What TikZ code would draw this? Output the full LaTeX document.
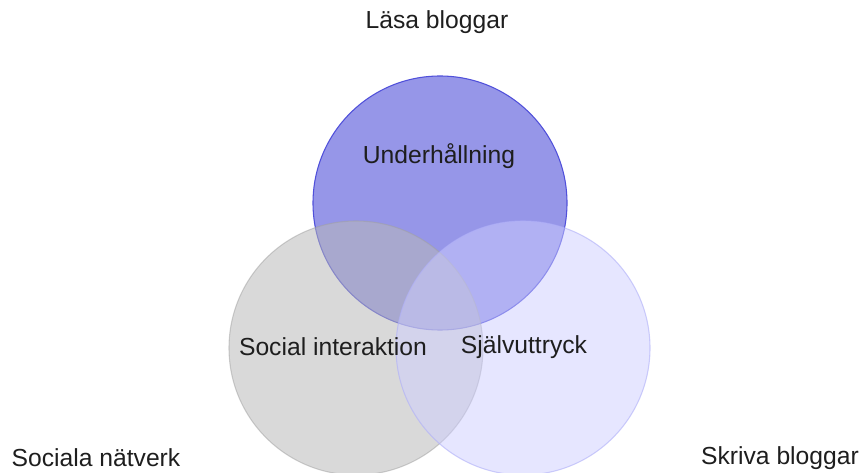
\documentclass[tikz,border=0pt]{standalone}
\usepackage{fontspec}
\setmainfont{Liberation Sans}
\usepackage{xcolor}
\usetikzlibrary{positioning}
\definecolor{topblue}{RGB}{150,150,232}
\definecolor{topedge}{RGB}{80,80,218}
\definecolor{leftgray}{RGB}{184,184,184}
\definecolor{leftedge}{RGB}{160,160,160}
\definecolor{rightlav}{RGB}{205,205,255}
\definecolor{rightedge}{RGB}{175,175,248}
\definecolor{txt}{RGB}{30,30,30}
\tikzset{%
	vennring/.style  = {circle, inner sep=0pt, minimum size=190.5pt, line width=0.8pt},
	vennlabel/.style = {text=txt, font=\fontsize{18.5}{22}\selectfont, inner sep=0pt},
}
\begin{document}
\begin{tikzpicture}[x=0.75pt,y=0.75pt]
	\useasboundingbox (0,0) rectangle (861,472);
	
	% circles
	\node[vennring, draw=topedge, fill=topblue] (lasaring) at (440,269) {};
	\node[vennring, draw=leftedge, fill=leftgray, fill opacity=0.53, draw opacity=0.5] (natverkring) at (356,124) {};
	\node[vennring, draw=rightedge, fill=rightlav, fill opacity=0.5, draw opacity=0.6] (skrivaring) at (523,124) {};
	
	% texts inside
	\node[vennlabel] (underh) at (439,316) {Underhållning};
	\node[vennlabel] (social) at (333,125) {Social interaktion};
	\node[vennlabel] (sjalv) at (524,125) {Självuttryck};
	
	% texts outside
	\node[vennlabel] (lasa) at (437,450) {Läsa bloggar};
	\node[vennlabel] (natverk) at (96,14) {Sociala nätverk};
	\node[vennlabel] (skriva) at (780,14) {Skriva bloggar};
\end{tikzpicture}
\end{document}
